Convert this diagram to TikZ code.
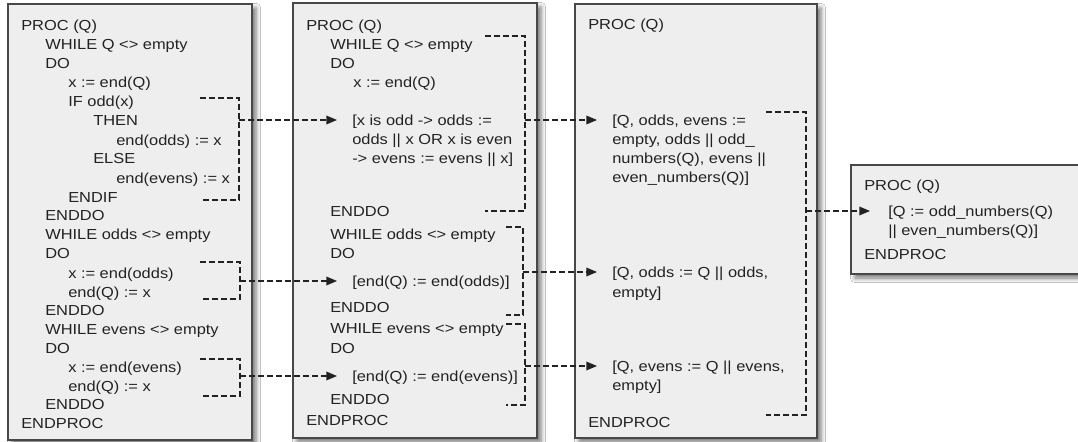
\documentclass[tikz,border=0pt]{standalone}
\usepackage{fontspec}
\setmainfont{Liberation Sans}[FakeStretch=1.13]
\usetikzlibrary{arrows.meta,shadows.blur}

\definecolor{panelfill}{HTML}{EEEEEE}
\definecolor{panelline}{HTML}{484848}
\definecolor{ink}{HTML}{222222}

\tikzset{
  panel/.style={draw=panelline, line width=1pt, fill=panelfill,
    blur shadow={shadow xshift=3pt, shadow yshift=-3pt,
                 shadow blur radius=3.5pt, shadow opacity=55}},
  code/.style={anchor=west, inner sep=0pt, text height=8pt, text depth=0pt,
    text=ink, font=\fontsize{10.9pt}{13pt}\selectfont},
  brace/.style={draw=ink, line width=1pt, dash pattern=on 4.5pt off 2.25pt},
  conn/.style={draw=ink, line width=1pt, dash pattern=on 4.5pt off 2.25pt,
    -{Triangle[length=8pt,width=6.5pt]}},
}

\begin{document}
\begin{tikzpicture}[x=0.75pt,y=-0.75pt]
\useasboundingbox (0,0) rectangle (1078,442);
\clip (0,0) rectangle (1078,442);
\fill[white] (0,0) rectangle (1078,442);

% ---- panels ----
\draw[panel] (8,4) rectangle (252,440);
\draw[panel] (293,3) rectangle (537,438);
\draw[panel] (575,4) rectangle (817,438);
\draw[panel] (851,165) rectangle (1095,274);

% ---- panel 1: explicit loop ----
\node[code] (a1)  at (21,25)  {PROC (Q)};
\node[code] (a2)  at (45,44)  {WHILE Q <> empty};
\node[code] (a3)  at (45,63)  {DO};
\node[code] (a4)  at (68,82)  {x := end(Q)};
\node[code] (a5)  at (68,101) {IF odd(x)};
\node[code] (a6)  at (93,120) {THEN};
\node[code] (a7)  at (116,140) {end(odds) := x};
\node[code] (a8)  at (93,158) {ELSE};
\node[code] (a9)  at (116,178) {end(evens) := x};
\node[code] (a10) at (68,197) {ENDIF};
\node[code] (a11) at (45,215) {ENDDO};
\node[code] (a12) at (45,234) {WHILE odds <> empty};
\node[code] (a13) at (45,253) {DO};
\node[code] (a14) at (68,273) {x := end(odds)};
\node[code] (a15) at (68,292) {end(Q) := x};
\node[code] (a16) at (45,310) {ENDDO};
\node[code] (a17) at (45,329) {WHILE evens <> empty};
\node[code] (a18) at (45,348) {DO};
\node[code] (a19) at (68,367) {x := end(evens)};
\node[code] (a20) at (68,386) {end(Q) := x};
\node[code] (a21) at (45,404) {ENDDO};
\node[code] (a22) at (21,423) {ENDPROC};

% ---- panel 2 ----
\node[code] (b1)  at (306,25)  {PROC (Q)};
\node[code] (b2)  at (330,44)  {WHILE Q <> empty};
\node[code] (b3)  at (330,63)  {DO};
\node[code] (b4)  at (353,82)  {x := end(Q)};
\node[code] (b5)  at (352,120) {[x is odd -> odds :=};
\node[code] (b6)  at (352,139) {odds || x OR x is even};
\node[code] (b7)  at (352,158) {-> evens := evens || x]};
\node[code] (b8)  at (330,211) {ENDDO};
\node[code] (b9)  at (330,234) {WHILE odds <> empty};
\node[code] (b10) at (330,253) {DO};
\node[code] (b11) at (352,281) {[end(Q) := end(odds)]};
\node[code] (b12) at (330,307) {ENDDO};
\node[code] (b13) at (330,328) {WHILE evens <> empty};
\node[code] (b14) at (330,348) {DO};
\node[code] (b15) at (352,376) {[end(Q) := end(evens)]};
\node[code] (b16) at (330,399) {ENDDO};
\node[code] (b17) at (306,420) {ENDPROC};

% ---- panel 3 ----
\node[code] (c1)  at (588,24)  {PROC (Q)};
\node[code] (c2)  at (612,120) {[Q, odds, evens :=};
\node[code] (c3)  at (612,139) {empty, odds || odd\_};
\node[code] (c4)  at (612,158) {numbers(Q), evens ||};
\node[code] (c5)  at (612,177) {even\_numbers(Q)]};
\node[code] (c6)  at (612,272) {[Q, odds := Q || odds,};
\node[code] (c7)  at (612,292) {empty]};
\node[code] (c8)  at (612,366) {[Q, evens := Q || evens,};
\node[code] (c9)  at (612,385) {empty]};
\node[code] (c10) at (588,422) {ENDPROC};

% ---- panel 4 ----
\node[code] (d1) at (864,185) {PROC (Q)};
\node[code] (d2) at (888,211) {[Q := odd\_numbers(Q)};
\node[code] (d3) at (888,230) {|| even\_numbers(Q)]};
\node[code] (d4) at (864,254) {ENDPROC};

% ---- dashed brackets ----
\coordinate (p1) at (239,98);
\draw[brace] (200,98) -- (p1) -- (239,200) -- (200,200);
\coordinate (p2) at (240,262);
\draw[brace] (200,262) -- (p2) -- (240,299) -- (200,299);
\coordinate (p3) at (240,359);
\draw[brace] (200,359) -- (p3) -- (240,396) -- (200,396);

\coordinate (q1) at (525,36);
\draw[brace] (485,36) -- (q1) -- (525,211) -- (485,211);
\coordinate (q2) at (523,227);
\draw[brace] (506,227) -- (q2) -- (523,315) -- (506,315);
\coordinate (q3) at (525,324);
\draw[brace] (506,324) -- (q3) -- (525,405) -- (506,405);

\coordinate (r1) at (806,112);
\draw[brace] (766,112) -- (r1) -- (806,415) -- (766,415);

% ---- refinement arrows ----
\draw[conn] (p1 |- b5.west) -- ([xshift=-11.25pt]b5.west);
\draw[conn] (p2 |- b11.west) -- ([xshift=-11.25pt]b11.west);
\draw[conn] (p3 |- b15.west) -- ([xshift=-11.25pt]b15.west);
\draw[conn] (q1 |- c2.west) -- ([xshift=-11.25pt]c2.west);
\draw[conn] (q2 |- c6.west) -- ([xshift=-11.25pt]c6.west);
\draw[conn] (q3 |- c8.west) -- ([xshift=-11.25pt]c8.west);
\draw[conn] (r1 |- d2.west) -- ([xshift=-13.5pt]d2.west);
\end{tikzpicture}
\end{document}
